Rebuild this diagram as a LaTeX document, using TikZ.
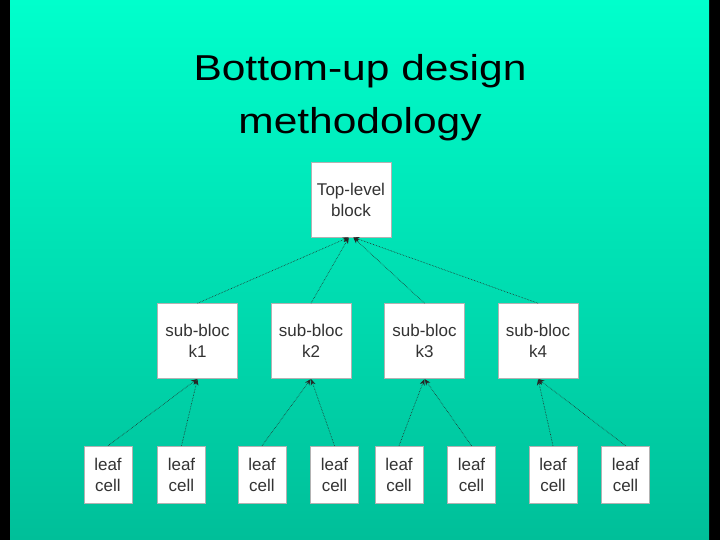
\documentclass[tikz,border=0pt]{standalone}
\usepackage{fontspec}
\setmainfont{Liberation Sans}
\newfontfamily\titlefont{Liberation Sans}[FakeStretch=1.18]
\usepackage{tikz}
\usetikzlibrary{arrows.meta}
\usetikzlibrary{positioning}
\definecolor{bgtop}{HTML}{00FFCC}
\definecolor{bgbottom}{HTML}{00BF99}
\definecolor{boxtext}{HTML}{333333}

\begin{document}
\begin{tikzpicture}[x=1pt, y=1pt,
    block/.style={draw=gray!60, line width=0.5pt, fill=white, text=boxtext,
      align=center, inner sep=0pt, minimum width=80pt, minimum height=75pt,
      font=\fontsize{17}{21}\selectfont},
    leafcell/.style={block, minimum width=48pt, minimum height=57pt},
    link/.style={densely dotted, line width=0.6pt, black!85,
      -{Stealth[length=6pt, width=5pt]}, shorten >=0.5pt}]
    % background
    \fill[black] (0,0) rectangle (720,540);
    \shade[top color=bgtop, bottom color=bgbottom] (10,0) rectangle (709,540);
    \useasboundingbox (0,0) rectangle (720,540);

    \node[align=center, inner sep=0pt, font=\titlefont\fontsize{36}{53}\selectfont]
      (title) at (360,442) {Bottom-up design\\methodology};

    \node[block] (top) at (351,340.5) {Top-level\\block};

    \node[block, below left=66pt and 73pt of top] (sub1) {sub-bloc\\k1};
    \node[block, right=33pt of sub1] (sub2) {sub-bloc\\k2};
    \node[block, right=33pt of sub2] (sub3) {sub-bloc\\k3};
    \node[block, right=33pt of sub3] (sub4) {sub-bloc\\k4};

    \node[leafcell, below left=67pt and 25pt of sub1] (leaf1) {leaf\\cell};
    \node[leafcell, right=25pt of leaf1] (leaf2) {leaf\\cell};
    \node[leafcell, right=32pt of leaf2] (leaf3) {leaf\\cell};
    \node[leafcell, right=24pt of leaf3] (leaf4) {leaf\\cell};
    \node[leafcell, right=16pt of leaf4] (leaf5) {leaf\\cell};
    \node[leafcell, right=24pt of leaf5] (leaf6) {leaf\\cell};
    \node[leafcell, right=33pt of leaf6] (leaf7) {leaf\\cell};
    \node[leafcell, right=24pt of leaf7] (leaf8) {leaf\\cell};

    % sub-blocks up to the top-level block
    \draw[link] (sub1.north) -- ([xshift=-2pt]top.south);
    \draw[link] (sub2.north) -- ([xshift=-2pt]top.south);
    \draw[link] (sub3.north) -- ([xshift=2pt]top.south);
    \draw[link] (sub4.north) -- ([xshift=2pt]top.south);

    % leaf cells up to the sub-blocks
    \draw[link] (leaf1.north) -- (sub1.south);
    \draw[link] (leaf2.north) -- (sub1.south);
    \draw[link] (leaf3.north) -- (sub2.south);
    \draw[link] (leaf4.north) -- (sub2.south);
    \draw[link] (leaf5.north) -- (sub3.south);
    \draw[link] (leaf6.north) -- (sub3.south);
    \draw[link] (leaf7.north) -- (sub4.south);
    \draw[link] (leaf8.north) -- (sub4.south);
\end{tikzpicture}
\end{document}
